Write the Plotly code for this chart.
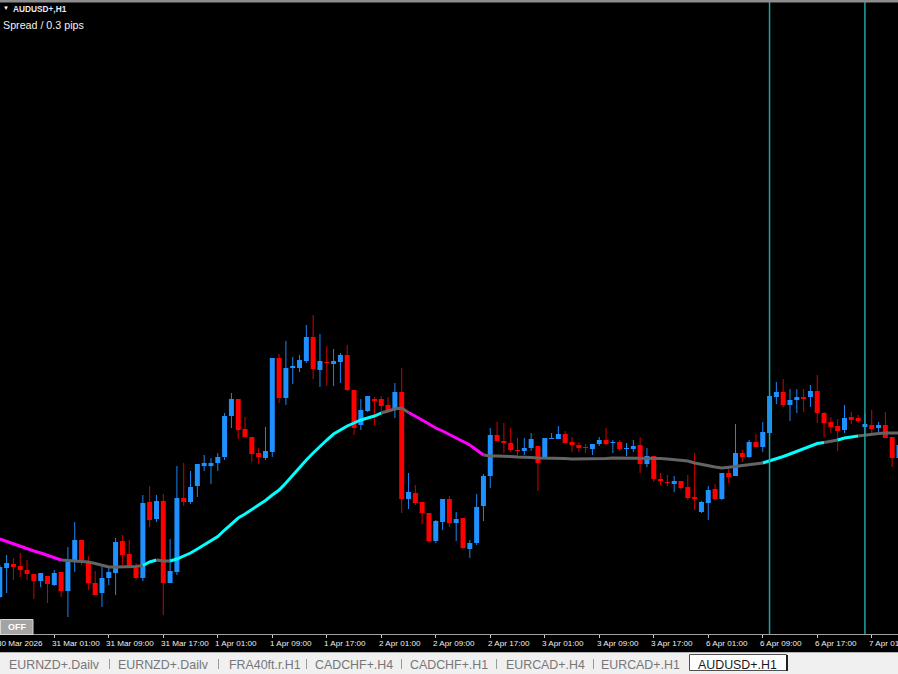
import plotly.graph_objects as go

# ---------------- data (AUDUSD+, H1) ----------------
tick_labels = ["30 Mar 2026", "31 Mar 01:00", "31 Mar 09:00", "31 Mar 17:00", "1 Apr 01:00",
               "1 Apr 09:00", "1 Apr 17:00", "2 Apr 01:00", "2 Apr 09:00", "2 Apr 17:00",
               "3 Apr 01:00", "3 Apr 09:00", "3 Apr 17:00", "6 Apr 01:00", "6 Apr 09:00",
               "6 Apr 17:00", "7 Apr 01:00"]
tick_bars = [0, 8, 16, 24, 32, 40, 48, 56, 64, 72, 80, 88, 96, 104, 112, 120, 128]

opens = [0.6803, 0.6832, 0.6836, 0.6834, 0.6830, 0.6826, 0.6819, 0.6824, 0.6815, 0.6828,
         0.6809, 0.6838, 0.6860, 0.6838, 0.6817, 0.6807, 0.6822, 0.6827, 0.6859, 0.6846,
         0.6832, 0.6822, 0.6898, 0.6881, 0.6899, 0.6817, 0.6828, 0.6902, 0.6898, 0.6914,
         0.6934, 0.6934, 0.6937, 0.6943, 0.6984, 0.7001, 0.6971, 0.6963, 0.6947, 0.6942,
         0.6948, 0.7042, 0.7002, 0.7032, 0.7032, 0.7039, 0.7063, 0.7030, 0.7038, 0.7036,
         0.7038, 0.7045, 0.7010, 0.6975, 0.6989, 0.7001, 0.7001, 0.6995, 0.6991, 0.7008,
         0.6901, 0.6907, 0.6898, 0.6887, 0.6859, 0.6878, 0.6901, 0.6877, 0.6882, 0.6851,
         0.6857, 0.6894, 0.6924, 0.6965, 0.6959, 0.6957, 0.6950, 0.6949, 0.6952, 0.6954,
         0.6943, 0.6961, 0.6961, 0.6966, 0.6958, 0.6955, 0.6953, 0.6951, 0.6956, 0.6960,
         0.6957, 0.6958, 0.6951, 0.6951, 0.6955, 0.6936, 0.6944, 0.6921, 0.6918, 0.6916,
         0.6919, 0.6913, 0.6903, 0.6888, 0.6897, 0.6911, 0.6901, 0.6927, 0.6924, 0.6947,
         0.6943, 0.6958, 0.6953, 0.6967, 0.7003, 0.7008, 0.6995, 0.7000, 0.7003, 0.7003,
         0.7009, 0.6987, 0.6978, 0.6974, 0.6970, 0.6983, 0.6982, 0.6973, 0.6975, 0.6972,
         0.6975, 0.6963, 0.6942]
closes = [0.6833, 0.6837, 0.6833, 0.6830, 0.6826, 0.6819, 0.6827, 0.6816, 0.6827, 0.6809,
          0.6838, 0.6860, 0.6838, 0.6817, 0.6805, 0.6822, 0.6828, 0.6858, 0.6845, 0.6833,
          0.6822, 0.6897, 0.6880, 0.6899, 0.6817, 0.6829, 0.6902, 0.6898, 0.6913, 0.6936,
          0.6937, 0.6937, 0.6943, 0.6984, 0.7001, 0.6970, 0.6963, 0.6946, 0.6943, 0.6949,
          0.7042, 0.7002, 0.7032, 0.7034, 0.7040, 0.7063, 0.7031, 0.7039, 0.7037, 0.7039,
          0.7045, 0.7010, 0.6972, 0.6990, 0.7004, 0.6999, 0.6994, 0.6989, 0.7008, 0.6901,
          0.6908, 0.6897, 0.6887, 0.6859, 0.6879, 0.6901, 0.6877, 0.6881, 0.6852, 0.6857,
          0.6893, 0.6924, 0.6965, 0.6959, 0.6957, 0.6950, 0.6949, 0.6952, 0.6961, 0.6937,
          0.6962, 0.6962, 0.6966, 0.6957, 0.6955, 0.6952, 0.6952, 0.6956, 0.6960, 0.6956,
          0.6958, 0.6951, 0.6952, 0.6954, 0.6936, 0.6944, 0.6921, 0.6919, 0.6917, 0.6919,
          0.6912, 0.6902, 0.6901, 0.6898, 0.6910, 0.6901, 0.6927, 0.6923, 0.6947, 0.6943,
          0.6958, 0.6953, 0.6968, 0.7004, 0.7008, 0.6995, 0.7000, 0.7003, 0.7001, 0.7009,
          0.6987, 0.6977, 0.6973, 0.6969, 0.6982, 0.6980, 0.6979, 0.6976, 0.6971, 0.6975,
          0.6962, 0.6942, 0.6955]
highs = [0.6835, 0.6845, 0.6842, 0.6847, 0.6840, 0.6826, 0.6827, 0.6824, 0.6830, 0.6828,
         0.6853, 0.6878, 0.6860, 0.6844, 0.6829, 0.6833, 0.6833, 0.6862, 0.6865, 0.6860,
         0.6837, 0.6905, 0.6914, 0.6905, 0.6906, 0.6861, 0.6934, 0.6937, 0.6929, 0.6936,
         0.6945, 0.6942, 0.6947, 0.6987, 0.7007, 0.7001, 0.6983, 0.6963, 0.6952, 0.6973,
         0.7042, 0.7046, 0.7059, 0.7043, 0.7045, 0.7075, 0.7085, 0.7066, 0.7054, 0.7051,
         0.7047, 0.7055, 0.7010, 0.7001, 0.7004, 0.7003, 0.7004, 0.7003, 0.7017, 0.7032,
         0.6927, 0.6915, 0.6898, 0.6887, 0.6880, 0.6901, 0.6904, 0.6888, 0.6882, 0.6860,
         0.6906, 0.6926, 0.6972, 0.6978, 0.6977, 0.6972, 0.6962, 0.6962, 0.6967, 0.6954,
         0.6962, 0.6967, 0.6974, 0.6969, 0.6963, 0.6958, 0.6956, 0.6956, 0.6963, 0.6972,
         0.6960, 0.6960, 0.6957, 0.6960, 0.6963, 0.6952, 0.6944, 0.6927, 0.6925, 0.6924,
         0.6919, 0.6925, 0.6947, 0.6899, 0.6914, 0.6916, 0.6927, 0.6934, 0.6976, 0.6950,
         0.6960, 0.6966, 0.6978, 0.7015, 0.7018, 0.7021, 0.7011, 0.7011, 0.7011, 0.7015,
         0.7025, 0.6988, 0.6983, 0.6981, 0.6995, 0.6988, 0.6985, 0.6987, 0.6990, 0.6978,
         0.6988, 0.6963, 0.6955]
lows = [0.6802, 0.6807, 0.6820, 0.6823, 0.6820, 0.6801, 0.6813, 0.6797, 0.6814, 0.6803,
        0.6783, 0.6828, 0.6835, 0.6810, 0.6805, 0.6793, 0.6815, 0.6805, 0.6835, 0.6833,
        0.6820, 0.6819, 0.6873, 0.6878, 0.6785, 0.6817, 0.6825, 0.6894, 0.6896, 0.6903,
        0.6929, 0.6916, 0.6929, 0.6940, 0.6972, 0.6961, 0.6963, 0.6938, 0.6936, 0.6940,
        0.6943, 0.6997, 0.6995, 0.7016, 0.7028, 0.7037, 0.7021, 0.7013, 0.7014, 0.7014,
        0.7017, 0.7009, 0.6965, 0.6970, 0.6988, 0.6975, 0.6987, 0.6987, 0.6982, 0.6887,
        0.6891, 0.6895, 0.6876, 0.6857, 0.6857, 0.6870, 0.6873, 0.6859, 0.6851, 0.6842,
        0.6855, 0.6879, 0.6912, 0.6959, 0.6947, 0.6948, 0.6943, 0.6945, 0.6949, 0.6909,
        0.6943, 0.6961, 0.6961, 0.6957, 0.6948, 0.6948, 0.6947, 0.6945, 0.6954, 0.6955,
        0.6947, 0.6949, 0.6944, 0.6948, 0.6927, 0.6933, 0.6918, 0.6915, 0.6914, 0.6908,
        0.6910, 0.6900, 0.6890, 0.6887, 0.6880, 0.6900, 0.6900, 0.6917, 0.6924, 0.6938,
        0.6942, 0.6953, 0.6948, 0.6965, 0.6996, 0.6993, 0.6979, 0.6987, 0.6988, 0.6993,
        0.6977, 0.6963, 0.6967, 0.6949, 0.6967, 0.6976, 0.6977, 0.6965, 0.6967, 0.6968,
        0.6962, 0.6933, 0.6940]
ma_values = [0.6861, 0.68585, 0.6856, 0.6854, 0.68515, 0.6849, 0.6847, 0.68445, 0.6842, 0.6840,
             0.68395, 0.6839, 0.6839, 0.6838, 0.68365, 0.68345, 0.6833, 0.6833, 0.6833, 0.6833,
             0.68335, 0.68345, 0.6838, 0.6840, 0.6839, 0.6839, 0.6841, 0.6844, 0.6847, 0.6851,
             0.6855, 0.6859, 0.68635, 0.6870, 0.6876, 0.6882, 0.6886, 0.68905, 0.6895, 0.68995,
             0.6905, 0.6910, 0.6917, 0.6925, 0.6933, 0.6940, 0.6947, 0.6954, 0.6960, 0.6966,
             0.6970, 0.6974, 0.6977, 0.6980, 0.6982, 0.6984, 0.6987, 0.6989, 0.6991, 0.6992,
             0.69875, 0.6984, 0.6980, 0.6976, 0.6972, 0.6969, 0.69655, 0.6962, 0.69585, 0.6955,
             0.6950, 0.6945, 0.6944, 0.6944, 0.6944, 0.69435, 0.6943, 0.6943, 0.69425, 0.6942,
             0.6942, 0.6942, 0.6942, 0.69415, 0.6941, 0.6941, 0.6941, 0.6941, 0.6941, 0.69415,
             0.6942, 0.6942, 0.6942, 0.6942, 0.6942, 0.6942, 0.6942, 0.69415, 0.6941, 0.69405,
             0.6940, 0.6939, 0.6937, 0.69355, 0.6934, 0.6933, 0.6932, 0.69325, 0.69335, 0.69345,
             0.69355, 0.69365, 0.6937, 0.6939, 0.69415, 0.69435, 0.6946, 0.69485, 0.6951, 0.6954,
             0.69565, 0.69575, 0.69585, 0.6960, 0.6962, 0.6963, 0.6964, 0.6965, 0.6966, 0.69665,
             0.6967, 0.6967, 0.6967]
# trend state of the moving average: (state, first bar, last bar)
ma_trend_runs = [("down", 0, 9), ("flat", 10, 21), ("up", 22, 23), ("flat", 24, 25),
                 ("up", 26, 56), ("flat", 57, 60), ("down", 61, 71), ("flat", 72, 112),
                 ("up", 113, 121), ("flat", 122, 123), ("up", 124, 126), ("flat", 127, 132)]
vline_bars = [113, 127]
tab_names = ["EURNZD+.Dailv", "EURNZD+.Dailv", "FRA40ft.r.H1", "CADCHF+.H4", "CADCHF+.H1",
             "EURCAD+.H4", "EURCAD+.H1", "AUDUSD+.H1"]
chart_title = "AUDUSD+,H1"
spread_text = "Spread / 0.3 pips"

# ---------------- layout helpers ----------------
W, H = 898, 674
BAR_PX = 6.812
X_LO = 0.2 / BAR_PX
X_HI = X_LO + W / BAR_PX
PLOT_BOTTOM = 634
FONT = "Liberation Sans, Arial, sans-serif"


def fx(px):
    return px / W


def fy(py):
    return (H - py) / H


def bar_px(i):
    return (i - X_LO) * BAR_PX


n = len(opens)
bars = list(range(n))

fig = go.Figure()

# wicks
for bull, color in ((True, "#1a86f0"), (False, "#d40000")):
    wx, wy = [], []
    for i in bars:
        if (closes[i] >= opens[i]) != bull:
            continue
        wx += [i, i, None]
        wy += [lows[i], highs[i], None]
    fig.add_trace(go.Scatter(x=wx, y=wy, mode="lines", line=dict(color=color, width=1),
                             hoverinfo="skip", showlegend=False))

# bodies
for bull, color in ((True, "#1e90ff"), (False, "#ff0000")):
    bx, by = [], []
    for i in bars:
        if (closes[i] >= opens[i]) != bull:
            continue
        bx += [i, i, None]
        by += [opens[i], closes[i], None]
    fig.add_trace(go.Scatter(x=bx, y=by, mode="lines", line=dict(color=color, width=5),
                             hoverinfo="skip", showlegend=False))

# moving average, coloured by trend
ma_colors = {"up": "#00ffff", "down": "#ff00ff", "flat": "#646464"}
for state, a, b in ma_trend_runs:
    start = max(a - 1, 0)
    fig.add_trace(go.Scatter(x=bars[start:b + 1], y=ma_values[start:b + 1], mode="lines",
                             line=dict(color=ma_colors[state], width=3),
                             hoverinfo="skip", showlegend=False))

shapes = []
# vertical lines
for vb in vline_bars:
    shapes.append(dict(type="line", xref="x", yref="paper", x0=vb, x1=vb,
                       y0=fy(PLOT_BOTTOM), y1=fy(2), line=dict(color="#1fa3a3", width=1.5)))
# top border
shapes.append(dict(type="rect", xref="paper", yref="paper", x0=0, x1=1, y0=fy(2.5), y1=1,
                   fillcolor="#8c8c8c", line=dict(width=0)))
# tab bar
shapes.append(dict(type="rect", xref="paper", yref="paper", x0=0, x1=1, y0=0, y1=fy(652),
                   fillcolor="#f0f0f0", line=dict(width=0)))
shapes.append(dict(type="line", xref="paper", yref="paper", x0=0, x1=1, y0=fy(652.5), y1=fy(652.5),
                   line=dict(color="#b4b4b4", width=1)))
for sx in [109.5, 218.5, 306.5, 401.5, 496.5, 593.5]:
    shapes.append(dict(type="line", xref="paper", yref="paper", x0=fx(sx), x1=fx(sx),
                       y0=fy(669), y1=fy(659), line=dict(color="#9a9a9a", width=1)))
# active tab
shapes.append(dict(type="rect", xref="paper", yref="paper", x0=fx(689.5), x1=fx(786.5),
                   y0=fy(670.5), y1=fy(654.5), fillcolor="#ffffff",
                   line=dict(color="#505050", width=1)))
shapes.append(dict(type="line", xref="paper", yref="paper", x0=fx(787), x1=fx(787),
                   y0=fy(671), y1=fy(655), line=dict(color="#202020", width=2)))
# OFF button
shapes.append(dict(type="rect", xref="paper", yref="paper", x0=fx(0.5), x1=fx(33), y0=fy(634.5),
                   y1=fy(619.5), fillcolor="#a4a4a4", line=dict(color="#d6d6d6", width=1)))

annotations = []
for tb, lab in zip(tick_bars, tick_labels):
    annotations.append(dict(x=fx(bar_px(tb)), xref="paper", y=fy(643.5), yref="paper", text=lab,
                            showarrow=False, xanchor="left", yanchor="middle",
                            xshift=-4.5,
                            font=dict(family=FONT, size=8.1, color="#f0f0f0")))
tab_centers = [54.5, 163.5, 265, 354, 449, 545, 640, 737.5]
for i, (tc, name) in enumerate(zip(tab_centers, tab_names)):
    active = i == len(tab_names) - 1
    annotations.append(dict(x=fx(tc), xref="paper", y=fy(664.5), yref="paper", text=name,
                            showarrow=False, xanchor="center", yanchor="middle",
                            font=dict(family=FONT, size=12.4,
                                      color="#1a1a1a" if active else "#777777")))
annotations.append(dict(x=fx(16.5), xref="paper", y=fy(627), yref="paper", text="<b>OFF</b>",
                        showarrow=False, xanchor="center", yanchor="middle",
                        font=dict(family=FONT, size=9, color="#ffffff")))
annotations.append(dict(x=fx(1), xref="paper", y=fy(8), yref="paper", text="▼",
                        showarrow=False, xanchor="left", yanchor="middle",
                        font=dict(family=FONT, size=6, color="#ffffff")))
annotations.append(dict(x=fx(11), xref="paper", y=fy(8.5), yref="paper", text="<b>" + chart_title + "</b>",
                        showarrow=False, xanchor="left", yanchor="middle",
                        font=dict(family=FONT, size=8.3, color="#e6ebff")))
annotations.append(dict(x=fx(1), xref="paper", y=fy(25), yref="paper", text=spread_text,
                        showarrow=False, xanchor="left", yanchor="middle",
                        font=dict(family=FONT, size=10.7, color="#f2f2f2")))

fig.update_layout(
    width=W, height=H,
    margin=dict(l=0, r=0, t=0, b=0),
    paper_bgcolor="#000000", plot_bgcolor="#000000",
    showlegend=False,
    xaxis=dict(range=[X_LO, X_HI], domain=[0, 1], showgrid=False, zeroline=False,
               showline=True, linecolor="#a0a0a0", linewidth=1,
               ticks="outside", ticklen=3, tickwidth=1, tickcolor="#c8c8c8",
               tickvals=tick_bars, showticklabels=False, fixedrange=True),
    yaxis=dict(range=[0.74 - PLOT_BOTTOM / 10000, 0.74], domain=[fy(PLOT_BOTTOM), 1],
               showgrid=False, zeroline=False, showline=False, showticklabels=False,
               ticks="", fixedrange=True),
    shapes=shapes,
    annotations=annotations,
)

fig.write_html("out.html", config={"displayModeBar": False},
               post_script="document.body.style.margin='0';document.body.style.overflow='hidden';")
